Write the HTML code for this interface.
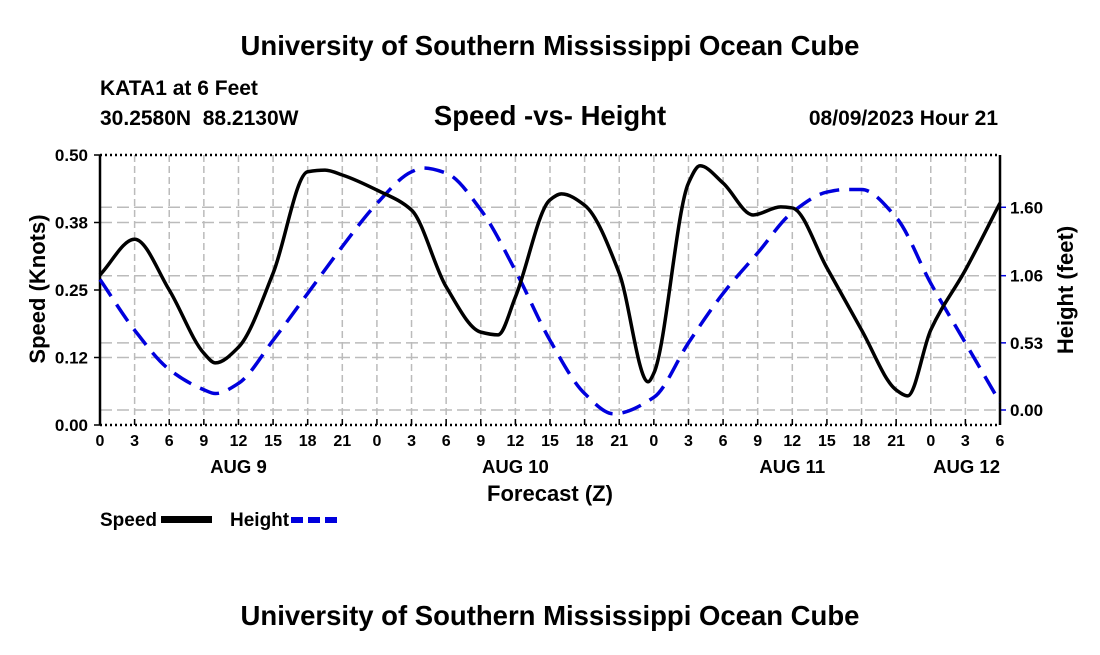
<!DOCTYPE html>
<html><head><meta charset="utf-8"><style>
body{margin:0;background:#fff;}
svg text{font-family:"Liberation Sans",Arial,sans-serif;font-weight:bold;fill:#000;}
</style></head><body>
<svg id="chart" width="1100" height="650" viewBox="0 0 1100 650">
<text x="550" y="55" text-anchor="middle" font-size="27.5">University of Southern Mississippi Ocean Cube</text>
<text x="100" y="95" font-size="21">KATA1 at 6 Feet</text>
<text x="100" y="125" font-size="21" xml:space="preserve">30.2580N  88.2130W</text>
<text x="550" y="125" text-anchor="middle" font-size="27.5">Speed -vs- Height</text>
<text x="998" y="125" text-anchor="end" font-size="21">08/09/2023 Hour 21</text>
<g id="grid"></g>
<g id="axes"></g>
<g id="series"></g>
<text transform="translate(45,289) rotate(-90)" text-anchor="middle" font-size="22">Speed (Knots)</text>
<text transform="translate(1073,290) rotate(-90)" text-anchor="middle" font-size="22">Height (feet)</text>
<text x="550" y="501" text-anchor="middle" font-size="22">Forecast (Z)</text>
<g>
<text x="100" y="526" font-size="19">Speed</text>
<rect x="161" y="516" width="51" height="7" fill="#000"/>
<text x="230" y="526" font-size="19">Height</text>
<line x1="291" y1="520" x2="342" y2="520" stroke="#0000dd" stroke-width="6" stroke-dasharray="12,5"/>
</g>
<text x="550" y="625" text-anchor="middle" font-size="27.5">University of Southern Mississippi Ocean Cube</text>
</svg>
<script>
const speedTimes=[0,3,6,9,10,12,15,18,19.5,21,24,27,30,33,34.5,36,39,40,42,45,47.5,48,51,52,54,56.6,59,60,63,66,69,70,72,75,78];
const speedValues=[0.278,0.344,0.250,0.133,0.115,0.144,0.281,0.469,0.472,0.463,0.435,0.398,0.256,0.172,0.167,0.237,0.417,0.428,0.407,0.281,0.080,0.096,0.448,0.480,0.448,0.389,0.404,0.402,0.291,0.176,0.065,0.054,0.176,0.287,0.411];
const heightTimes=[0,3,6,9,10,12,15,18,21,24,27,28,30,33,36,39,42,44.5,48,51,54,57,60,63,64.5,66,69,72,75,78];
const heightValues=[1.03,0.63,0.32,0.16,0.13,0.21,0.55,0.92,1.29,1.63,1.88,1.91,1.87,1.58,1.10,0.55,0.13,-0.03,0.10,0.53,0.92,1.24,1.56,1.72,1.74,1.74,1.52,1.00,0.53,0.06];
const speedTicks=[0,0.125,0.25,0.375,0.5];
const speedTickLabels=["0.00","0.12","0.25","0.38","0.50"];
const heightTicks=[0,0.53,1.06,1.60];
const heightTickLabels=["0.00","0.53","1.06","1.60"];
const dateLabels=["AUG 9","AUG 10","AUG 11","AUG 12"];
const dateLabelHours=[12,36,60,78];

const L=100,R=1000,T=155,B=425,TMAX=78;
const NS="http://www.w3.org/2000/svg";
const xS=t=>L+t/TMAX*(R-L);
const yS=v=>B-v/0.5*(B-T);
const yH=v=>410-v*126.7;
function mk(tag,attrs,parent){const e=document.createElementNS(NS,tag);for(const k in attrs)e.setAttribute(k,attrs[k]);parent.appendChild(e);return e;}
const grid=document.getElementById('grid'),axes=document.getElementById('axes'),series=document.getElementById('series');
for(let t=0;t<=TMAX;t+=3){
  const x=xS(t);
  if(t>0&&t<TMAX){const g=mk('line',{x1:x,y1:T,x2:x,y2:B,stroke:'#bbb','stroke-width':1.5,'stroke-dasharray':'7,4'},grid);
  
  }
  const tk=mk('line',{x1:x,y1:B,x2:x,y2:B-6,stroke:'#000','stroke-width':1.5},axes);
  
  
  const tl=mk('text',{x:x,y:B+21,'text-anchor':'middle','font-size':16},axes);
  tl.textContent=String(t%24);
  
  
}
dateLabels.forEach((d,i)=>{
  const last=i===dateLabels.length-1;
  const e=mk('text',{x:last?R:xS(dateLabelHours[i]),y:B+48,'text-anchor':last?'end':'middle','font-size':18.5},axes);
  e.textContent=d;
  
  
});
speedTicks.forEach((v,i)=>{
  const y=yS(v);
  if(v>0&&v<0.5){const g=mk('line',{x1:L,y1:y,x2:R,y2:y,stroke:'#bbb','stroke-width':1.5,'stroke-dasharray':'12,5'},grid);
  
  }
  const tk=mk('line',{x1:L-6,y1:y,x2:L,y2:y,stroke:'#000','stroke-width':1.5},axes);
  
  
  const tl=mk('text',{x:L-12,y:y+6,'text-anchor':'end','font-size':17},axes);
  tl.textContent=speedTickLabels[i];
  
  
});
heightTicks.forEach((v,i)=>{
  const y=yH(v);
  const g=mk('line',{x1:L,y1:y,x2:R,y2:y,stroke:'#bbb','stroke-width':1.5,'stroke-dasharray':'12,5'},grid);
  
  
  const tk=mk('line',{x1:R,y1:y,x2:R+6,y2:y,stroke:'#0000dd','stroke-width':1.5},axes);
  
  
  const tl=mk('text',{x:R+10,y:y+6,'text-anchor':'start','font-size':17},axes);
  tl.textContent=heightTickLabels[i];
  
  
});
[[L,T,L,B,'none'],[R,T,R,B,'none'],[L,T,R,T,'2,3'],[L,B,R,B,'2,3']].forEach(a=>{
  const e=mk('line',{x1:a[0],y1:a[1],x2:a[2],y2:a[3],stroke:'#000','stroke-width':2.5,'stroke-dasharray':a[4]},axes);
  
  
});
function smoothPath(ts,vs,ys){
  const x=ts.map(xS),y=vs.map(ys),n=x.length;
  const d=[],m=new Array(n);
  for(let i=0;i<n-1;i++)d.push((y[i+1]-y[i])/(x[i+1]-x[i]));
  m[0]=d[0];m[n-1]=d[n-2];
  for(let i=1;i<n-1;i++){
    if(d[i-1]*d[i]<=0)m[i]=0;
    else{const w1=2*(x[i+1]-x[i])+(x[i]-x[i-1]),w2=(x[i+1]-x[i])+2*(x[i]-x[i-1]);m[i]=(w1+w2)/(w1/d[i-1]+w2/d[i]);}
  }
  let p='M'+x[0]+','+y[0];
  for(let i=0;i<n-1;i++){
    const h=(x[i+1]-x[i])/3;
    p+=' C'+(x[i]+h)+','+(y[i]+m[i]*h)+' '+(x[i+1]-h)+','+(y[i+1]-m[i+1]*h)+' '+x[i+1]+','+y[i+1];
  }
  return p;
}
const hp=mk('path',{d:smoothPath(heightTimes,heightValues,yH),fill:'none',stroke:'#0000dd','stroke-width':3.5,'stroke-dasharray':'20,10'},series);


const sp=mk('path',{d:smoothPath(speedTimes,speedValues,yS),fill:'none',stroke:'#000','stroke-width':3.5,'stroke-linejoin':'round'},series);


</script>
</body></html>
